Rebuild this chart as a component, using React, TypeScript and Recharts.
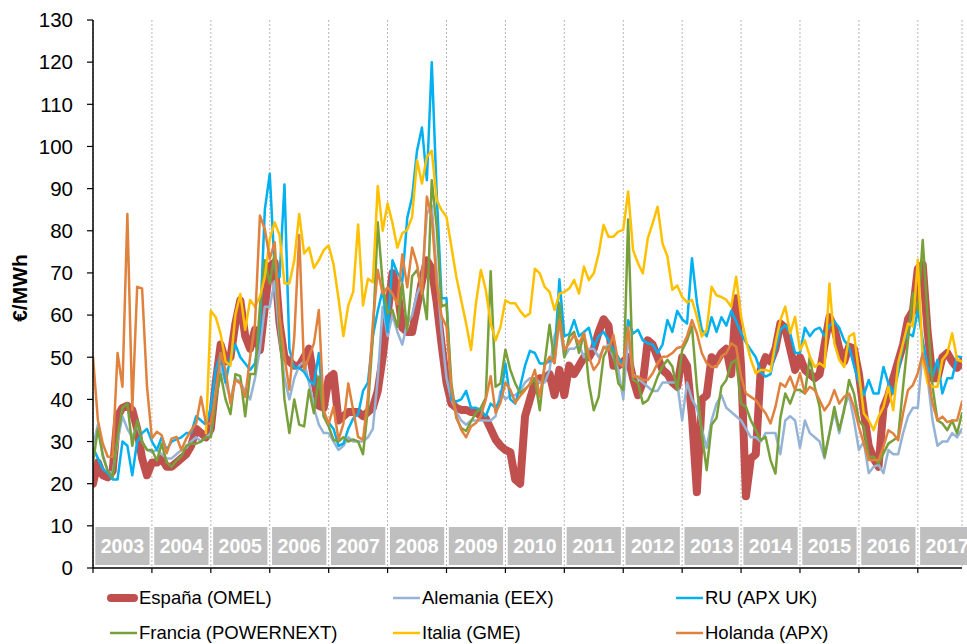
import React from 'react';
import { LineChart, Line, XAxis, YAxis, CartesianGrid, ReferenceArea, Legend } from 'recharts';

// monthly prices, Jan 2003 .. Oct 2017 (€/MWh), one row per year
const YEARS = ['2003', '2004', '2005', '2006', '2007', '2008', '2009', '2010', '2011', '2012', '2013', '2014', '2015', '2016', '2017'];

const ESPANA = [
  20, 25, 22, 21.5, 23, 36, 38, 38.5, 37.5, 33, 26, 22,
  25, 25, 26, 24, 24, 25, 26, 27, 29, 33, 32, 31,
  33, 44, 53, 49, 50, 58, 63.5, 55, 52, 56.5, 51.7, 62,
  71.5, 72.5, 58, 50, 49, 48, 48, 50, 52, 45, 38.5, 38,
  45, 46, 35, 36, 37, 37, 37, 36, 37, 38, 42, 50,
  60, 70, 66, 57, 56, 56, 62, 68, 73, 71, 63, 53,
  44, 39, 38, 37.5, 37.5, 37, 37, 36, 35.5, 33, 30.5, 29,
  28, 27.5, 21, 20, 36, 40, 44, 45, 45, 46, 41, 47,
  41, 48, 46, 48, 50, 50, 52, 56, 59, 57.5, 48, 48,
  49, 50, 45, 41, 44, 54, 53, 50, 47, 46, 44, 43,
  50, 48, 36, 18, 40, 41, 50, 49, 51, 52, 46, 64,
  48, 17, 26, 27, 47, 50, 49, 52, 58, 57, 52, 47,
  50, 47, 46, 45, 46, 53, 59.5, 57, 52, 49, 52.5, 52,
  46, 37, 29, 26, 24, 38, 41, 45, 49, 53, 59, 61,
  71, 72, 56, 45, 45, 50, 51, 49, 47.5, 49,
];

const ALEMANIA = [
  29, 34, 27, 23, 22.5, 30, 36, 33, 31, 34, 30, 28,
  27.5, 28, 27, 26, 26, 27, 28, 28.5, 30, 31, 30, 31,
  32, 42, 48, 44, 40, 45, 44, 42, 40, 45, 52, 62,
  62, 68, 55, 45, 40, 45, 48, 49, 44, 38, 34, 32,
  32, 30, 28, 29, 31, 30, 30, 30, 31, 33, 45, 62,
  55, 60, 56, 53, 58, 60, 65, 68, 84, 86, 70, 56,
  45, 40, 37, 35, 34, 35, 35, 35, 35, 35, 36, 42,
  40, 41, 41, 42, 44, 45, 45, 44, 44, 47, 55, 58,
  50, 52, 52, 53, 50, 52, 52, 50, 52, 53, 50, 47,
  40, 55, 46, 45, 44, 43, 42, 42, 44, 44, 44, 44,
  35, 44, 40, 38, 33, 28.5, 35, 39, 41, 38, 37, 36,
  35, 33, 31, 31, 30, 32, 32, 32, 27, 35, 36, 35,
  28.5, 35, 32, 31, 30, 26, 32, 37, 32, 38, 41, 35,
  28, 30, 22.5, 24, 24.5, 22.5, 28, 27, 27, 32, 36, 38,
  38, 52, 45, 35, 29, 30, 30, 32, 31, 33,
];

const RU = [
  28.5, 26, 23.5, 22.5, 21, 21, 30, 29, 22, 30, 32, 33,
  30, 28, 31, 28, 30, 30.5, 31, 32, 32, 36, 35, 34,
  38, 47, 51, 44, 50, 53, 50, 48.5, 47, 48.5, 57, 85,
  93.5, 71, 69, 91, 52, 47.5, 47.5, 46.5, 44.5, 43.5, 51, 36,
  34.5, 33, 29, 29.5, 33, 35.5, 36.5, 42, 44, 55, 61, 66,
  56, 73, 70, 68, 83, 88, 99, 104.5, 92, 120, 89, 64,
  64, 40, 39.5, 40, 42, 38, 38, 37.5, 36, 39, 38, 40,
  48.5, 40, 39, 43, 48, 51.5, 51, 48.5, 48.5, 49, 50, 68.5,
  55, 55.5, 58.8, 55, 56, 57, 52.5, 55, 56, 54, 51.7, 50,
  47.7, 58.8, 55.6, 56.5, 54, 53.3, 53, 51, 53, 58.8, 56, 61,
  59, 58, 73.5, 63, 56.5, 55, 59.5, 56, 59.5, 57.5, 61, 58.5,
  55.7, 53.5, 51.7, 50, 46.5, 45.4, 46, 51.5, 56.5, 57.6, 55.7, 51,
  51, 57, 55, 56.5, 57, 55, 57.5, 58.5, 57, 54, 52.5, 48,
  44, 41, 44.6, 41.4, 41.4, 47.7, 43.8, 41.4, 46.2, 53.3, 55.7, 55,
  61.2, 54, 47.7, 45.4, 49.4, 41.4, 45, 45, 50.2, 50,
];

const FRANCIA = [
  25, 33, 26.5, 23, 21.5, 31, 38, 39, 29, 35, 30, 28,
  28, 25.5, 29.5, 25, 24, 25.5, 26.5, 29, 29.5, 29.5, 30, 31,
  31, 40, 46, 40, 36.5, 46, 45.5, 36, 46, 46, 62, 73,
  67.5, 74.5, 57, 40, 32, 40, 34, 33.6, 42.3, 36.7, 45.4, 35.9,
  33.6, 30.4, 30, 31, 30, 30.5, 30, 27, 38, 55, 82, 67.5,
  60.4, 61.2, 57.2, 67.5, 56.4, 69.2, 70.7, 66, 59, 92, 81, 62,
  62.6, 43.8, 35.6, 33.2, 32.5, 34.8, 36.8, 38, 40.4, 70.4, 43, 43.8,
  51.8, 47, 43.8, 41.5, 42.5, 43.5, 45, 37.4, 48.6, 57.7, 48.6, 62.8,
  50, 54.9, 56, 51, 55.7, 43.8, 37.4, 40.6, 50.1, 52.5, 51, 43.8,
  42.2, 82.7, 44.6, 44, 39, 39.8, 42.2, 45.4, 47.8, 49.4, 47.8, 42.2,
  51.7, 54, 57.3, 43, 31.9, 23.2, 34, 35.6, 43, 44.6, 48.6, 49.4,
  39, 38.2, 35, 32.7, 30.3, 31.1, 25.6, 22.4, 35.6, 41.4, 39, 42.2,
  42.2, 41.4, 50.2, 43, 38.2, 26.4, 31.9, 38.2, 32.7, 37.4, 44.6, 41.4,
  35, 33.5, 26.4, 26.4, 24.8, 27.2, 29.5, 30.3, 31.1, 43, 54, 65.2,
  61.2, 77.8, 59.6, 43, 35, 34.3, 32.7, 35, 31.9, 36.7,
];

const ITALIA = [
  null, null, null, null, null, null, null, null, null, null, null, null,
  null, null, null, null, null, null, null, null, null, null, null, 32,
  61, 59.5, 55.5, 49, 48, 60, 65, 56.5, 63.6, 62, 64.4, 69,
  78, 82, 79, 67.5, 67.5, 73, 84, 74.6, 76, 71.2, 73, 75.4,
  76.5, 72, 64, 55, 62.3, 65.5, 81.5, 62.3, 68.6, 67.8, 90.6, 80,
  86.5, 81.8, 76, 79.4, 80.2, 83.3, 96.7, 91.2, 97.5, 99, 87.3, 84.9,
  83.3, 76.2, 69.1, 63.5, 58, 51.7, 62.8, 70.7, 66, 58, 54, 57.2,
  63.5, 62.8, 62.8, 61, 59.6, 60.4, 71, 69.9, 66.7, 65.5, 61.2, 65.1,
  65.5, 66.3, 68.3, 65.1, 71.5, 68.3, 69.9, 74.6, 81.4, 78.6, 78.6, 79.8,
  80.2, 89.3, 75.4, 72.3, 69.9, 78.2, 81.8, 85.7, 77, 73.9, 66, 67,
  64.3, 63, 63.6, 59.6, 54.9, 56.5, 66.7, 64.7, 64.3, 63.6, 62, 69.1,
  59.6, 54, 49.4, 46.2, 47, 47, 46.6, 53.3, 58.8, 62, 55.7, 59.6,
  51.7, 54, 50.2, 47.7, 48.6, 47.7, 67.5, 53.3, 49.4, 47.7, 54.9, 55.7,
  46.2, 36.7, 35, 32.7, 35.9, 38.2, 43, 37.4, 48.6, 53.3, 58, 57.3,
  73.1, 49.4, 43.8, 43, 43, 49.4, 50.9, 55.7, 49.4, 49,
];

const HOLANDA = [
  50, 35, 29.5, 26.4, 26.4, 51, 43, 84, 37.5, 66.7, 66.3, 43,
  30.7, 32.3, 31.5, 27.2, 30.7, 31.1, 28, 30.7, 32.7, 34.3, 40.6, 34.3,
  34.3, 41.4, 51, 47, 39, 44.6, 43.8, 40.6, 50, 58, 83.6, 80.4,
  73.3, 77.3, 59.6, 50.1, 42.3, 54.9, 79, 47, 50.1, 53.3, 61.2, 37.4,
  34.2, 38.2, 30.4, 34.2, 43.8, 37.4, 31.1, 30.4, 40.6, 58, 70.7, 65,
  66.6, 65, 62.6, 74.4, 66.6, 76, 72, 65, 88.1, 83.3, 67.5, 59.7,
  57.3, 42.3, 36, 32.8, 31, 33.6, 34.4, 36, 40, 45.5, 36.8, 39.2,
  44, 42.3, 39.2, 40.8, 42.2, 43.8, 47, 40.6, 48, 50.1, 48.6, 58.8,
  51.7, 53.3, 55.3, 53.3, 55.7, 50.1, 47, 48.6, 52.5, 51.7, 55.3, 48.6,
  47.8, 57.2, 45.4, 45.4, 44.6, 44.6, 46.2, 48.6, 50.1, 50.2, 51, 52.2,
  52.5, 55, 58.8, 55.7, 51, 48.6, 47.7, 47.7, 50.2, 51, 53.3, 52.5,
  45.4, 41.4, 40.6, 39.8, 38.2, 36.7, 34.3, 38.2, 43.8, 43, 45.4, 42.2,
  46.2, 41.4, 43, 42.2, 39.8, 37.4, 39, 42.2, 39, 40.6, 41.4, 38.2,
  33.5, 29.5, 25.6, 25.6, 25.6, 28.8, 32.7, 31.9, 30.3, 36.7, 42.2, 43.4,
  46.2, 50.9, 46.2, 39, 35, 35.9, 34.6, 35, 35, 39.4,
];

const Y_TICKS = [0, 10, 20, 30, 40, 50, 60, 70, 80, 90, 100, 110, 120, 130];

const FONT = '"Liberation Sans", Arial, sans-serif';

const SERIES = [
  { key: 'esp', name: 'España (OMEL)', color: '#C0504D', width: 8 },
  { key: 'ale', name: 'Alemania (EEX)', color: '#95B3D7', width: 2.5 },
  { key: 'ru', name: 'RU (APX UK)', color: '#00B0F0', width: 2.5 },
  { key: 'fra', name: 'Francia (POWERNEXT)', color: '#77A03B', width: 2.5 },
  { key: 'ita', name: 'Italia (GME)', color: '#FFC000', width: 2.5 },
  { key: 'hol', name: 'Holanda (APX)', color: '#E0823D', width: 2.5 },
];

const data = ESPANA.map((v, i) => ({
  m: i,
  esp: v,
  ale: ALEMANIA[i],
  ru: RU[i],
  fra: FRANCIA[i],
  ita: ITALIA[i],
  hol: HOLANDA[i],
}));

const yearTicks = YEARS.map((_, k) => k * 12);

const LEGEND_COLS = [106, 389, 672];
const LEGEND_ROWS = [20, 55];

const renderLegend = () => (
  <div style={{ position: 'relative', width: 967, height: 70, fontFamily: FONT }}>
    {SERIES.map((s, idx) => {
      const left = LEGEND_COLS[idx % 3];
      const top = LEGEND_ROWS[Math.floor(idx / 3)] - 11;
      const thick = s.width > 4;
      return (
        <div key={s.key} style={{ position: 'absolute', left, top, height: 22, display: 'flex', alignItems: 'center', whiteSpace: 'nowrap' }}>
          <svg width={33} height={12} style={{ display: 'block' }}>
            <line
              x1={thick ? 5 : 4}
              x2={thick ? 28 : 31}
              y1={6}
              y2={6}
              stroke={s.color}
              strokeWidth={s.width}
              strokeLinecap={thick ? 'round' : 'butt'}
            />
          </svg>
          <span style={{ fontSize: 18.5, color: '#000', lineHeight: '22px' }}>{s.name}</span>
        </div>
      );
    })}
  </div>
);

const YLabel = (props: any) => {
  const vb = props.viewBox || { x: 0, y: 20, width: 93, height: 548 };
  const cx = vb.x + 19;
  const cy = vb.y + vb.height / 2 - 6;
  return (
    <text x={cx} y={cy} transform={`rotate(-90 ${cx} ${cy})`} textAnchor="middle" dominantBaseline="central"
      fontSize={21} fontWeight="bold" fill="#000" fontFamily={FONT}>
      €/MWh
    </text>
  );
};

export default function App() {
  return (
    <div style={{ position: 'absolute', left: 0, top: 0, width: 967, height: 644, background: '#fff' }}>
      <LineChart width={967} height={644} data={data} margin={{ top: 20, right: 5, bottom: 46, left: 0 }}>
        <CartesianGrid horizontal={false} stroke="#B5B5B5" strokeDasharray="2 2" />
        <XAxis
          dataKey="m"
          type="number"
          domain={[0, 177]}
          ticks={yearTicks}
          allowDataOverflow
          height={30}
          tickSize={5}
          tickFormatter={() => ''}
          axisLine={{ stroke: '#000', strokeWidth: 1.5 }}
          tickLine={{ stroke: '#000', strokeWidth: 1.2 }}
        />
        <YAxis
          width={93}
          domain={[0, 130]}
          ticks={Y_TICKS}
          interval={0}
          tickSize={6}
          tickMargin={14}
          axisLine={{ stroke: '#000', strokeWidth: 1.5 }}
          tickLine={{ stroke: '#000', strokeWidth: 1.2 }}
          tick={{ fontSize: 20.5, fill: '#000', fontFamily: FONT }}
          label={{ content: (p: any) => <YLabel {...p} /> }}
        />
        {YEARS.map((y, k) => (
          <ReferenceArea
            key={y}
            x1={k * 12 + 0.47}
            x2={k * 12 + 11.53}
            y1={0.7}
            y2={9.7}
            ifOverflow="visible"
            fill="#BFBFBF"
            fillOpacity={1}
            stroke="none"
            label={{ value: y, position: 'center', fill: '#fff', fontSize: 19.5, fontWeight: 'bold', fontFamily: FONT }}
          />
        ))}
        {SERIES.map((s) => (
          <Line
            key={s.key}
            type="linear"
            dataKey={s.key}
            name={s.name}
            stroke={s.color}
            strokeWidth={s.width}
            strokeLinejoin="round"
            strokeLinecap="round"
            dot={false}
            activeDot={false}
            isAnimationActive={false}
          />
        ))}
        <Legend
          layout="horizontal"
          verticalAlign="middle"
          align="center"
          content={renderLegend}
          wrapperStyle={{ top: 578, left: 0, width: 967, height: 70, bottom: 'auto' }}
        />
      </LineChart>
    </div>
  );
}
